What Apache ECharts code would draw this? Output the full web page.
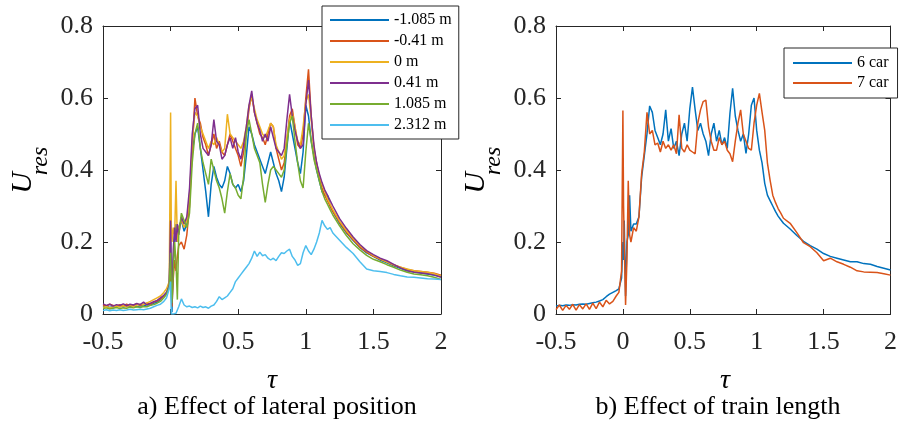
<!DOCTYPE html>
<html><head><meta charset="utf-8">
<script src="https://cdn.jsdelivr.net/npm/echarts@6/dist/echarts.min.js"></script>
<style>html,body{margin:0;padding:0;background:#fff;}#c{width:900px;height:423px;}</style>
</head><body><div id="c"></div>
<script>
// shared tau sample positions
const tau = [-0.5,-0.475,-0.45,-0.425,-0.4,-0.375,-0.35,-0.325,-0.3,-0.275,-0.25,-0.225,-0.2,-0.175,-0.15,-0.125,-0.1,
-0.075,-0.05,-0.03,-0.02,-0.01,0,0.005,0.01,0.02,0.03,0.04,0.05,0.06,0.08,
0.1,0.12,0.14,0.16,0.18,0.2,0.22,0.24,0.26,0.28,0.3,0.32,0.34,0.36,0.38,0.4,0.42,0.44,0.46,0.48,0.5,0.52,0.54,0.56,0.58,0.6,0.62,0.64,0.66,0.68,0.7,0.72,0.74,0.76,0.78,0.8,0.82,0.84,0.86,0.88,0.9,0.92,0.94,0.96,0.98,1,1.02,1.04,1.06,1.08,1.1,1.12,1.14,1.16,1.18,1.2,
1.25,1.3,1.35,1.4,1.45,1.5,1.55,1.6,1.65,1.7,1.75,1.8,1.85,1.9,1.95,2];

const xTicks = [-0.5, 0, 0.5, 1, 1.5, 2];
const yTicks = [0, 0.2, 0.4, 0.6, 0.8];

// a) lateral position
const namesA = ['-1.085 m','-0.41 m','0 m','0.41 m','1.085 m','2.312 m'];
const uNeg1085 = [0.02,0.022,0.018,0.021,0.02,0.023,0.019,0.022,0.021,0.024,0.02,0.023,0.022,0.026,0.024,0.03,0.033,
0.04,0.05,0.06,0.07,0.09,0.2,0.1,0.005,0.15,0.22,0.25,0.2,0.24,0.26,
0.23,0.25,0.33,0.45,0.5,0.52,0.46,0.4,0.34,0.27,0.36,0.41,0.38,0.36,0.35,0.37,0.41,0.39,0.36,0.35,0.36,0.34,0.37,0.44,0.52,0.5,0.47,0.45,0.43,0.41,0.39,0.42,0.45,0.42,0.39,0.37,0.34,0.38,0.46,0.54,0.5,0.46,0.42,0.39,0.45,0.58,0.55,0.48,0.44,0.4,0.37,0.34,0.33,0.33,0.3,0.285,
0.252,0.226,0.205,0.185,0.17,0.16,0.15,0.142,0.134,0.127,0.12,0.117,0.114,0.111,0.108,0.104];
const uNeg041 = [0.025,0.022,0.027,0.024,0.021,0.026,0.023,0.027,0.022,0.025,0.028,0.024,0.027,0.03,0.027,0.033,0.036,
0.042,0.05,0.058,0.065,0.08,0.12,0.05,0.02,0.1,0.15,0.12,0.16,0.19,0.2,
0.18,0.22,0.3,0.46,0.6,0.55,0.53,0.49,0.47,0.44,0.47,0.5,0.46,0.48,0.45,0.44,0.47,0.5,0.48,0.46,0.44,0.41,0.45,0.5,0.57,0.61,0.56,0.53,0.5,0.49,0.47,0.5,0.53,0.52,0.46,0.43,0.4,0.42,0.48,0.55,0.57,0.52,0.47,0.46,0.5,0.6,0.68,0.55,0.46,0.42,0.38,0.35,0.33,0.315,0.3,0.285,
0.255,0.228,0.206,0.186,0.172,0.16,0.152,0.145,0.136,0.13,0.124,0.12,0.118,0.116,0.113,0.108];
const uZero = [0.018,0.021,0.017,0.02,0.022,0.019,0.023,0.02,0.024,0.021,0.025,0.027,0.026,0.031,0.035,0.04,0.045,
0.05,0.06,0.07,0.08,0.09,0.56,0.25,0.2,0.24,0.22,0.37,0.2,0.24,0.26,
0.24,0.26,0.32,0.48,0.56,0.55,0.52,0.5,0.48,0.46,0.48,0.47,0.49,0.47,0.45,0.46,0.555,0.5,0.49,0.48,0.47,0.46,0.48,0.52,0.58,0.6,0.57,0.54,0.52,0.5,0.49,0.51,0.53,0.52,0.47,0.45,0.43,0.44,0.49,0.54,0.56,0.52,0.48,0.47,0.52,0.59,0.61,0.54,0.46,0.41,0.385,0.36,0.34,0.32,0.305,0.29,
0.258,0.232,0.21,0.19,0.175,0.162,0.153,0.144,0.137,0.13,0.125,0.12,0.118,0.116,0.112,0.106];
const uPos041 = [0.028,0.024,0.027,0.022,0.026,0.024,0.028,0.023,0.027,0.025,0.029,0.026,0.033,0.025,0.03,0.034,0.038,
0.045,0.052,0.06,0.068,0.08,0.26,0.12,0.03,0.18,0.24,0.2,0.25,0.22,0.27,
0.25,0.27,0.35,0.5,0.57,0.58,0.5,0.46,0.45,0.44,0.47,0.54,0.48,0.47,0.43,0.44,0.47,0.49,0.46,0.49,0.45,0.43,0.47,0.52,0.58,0.62,0.56,0.53,0.51,0.48,0.5,0.48,0.52,0.49,0.46,0.45,0.44,0.46,0.54,0.61,0.55,0.51,0.48,0.46,0.47,0.58,0.65,0.55,0.47,0.42,0.39,0.365,0.345,0.33,0.315,0.3,
0.265,0.238,0.214,0.193,0.176,0.165,0.155,0.148,0.138,0.128,0.12,0.116,0.114,0.112,0.108,0.102];
const uPos1085 = [0.015,0.017,0.014,0.016,0.018,0.015,0.017,0.016,0.019,0.017,0.02,0.018,0.021,0.02,0.024,0.026,0.03,
0.035,0.045,0.055,0.06,0.075,0.17,0.08,0.03,0.12,0.2,0.14,0.04,0.22,0.28,
0.26,0.24,0.28,0.42,0.5,0.53,0.46,0.42,0.39,0.36,0.43,0.4,0.37,0.35,0.32,0.28,0.34,0.39,0.36,0.35,0.33,0.32,0.38,0.5,0.54,0.5,0.46,0.44,0.42,0.36,0.31,0.36,0.4,0.41,0.4,0.39,0.38,0.4,0.47,0.53,0.55,0.48,0.42,0.37,0.35,0.45,0.53,0.48,0.43,0.4,0.37,0.34,0.32,0.305,0.29,0.275,
0.245,0.218,0.195,0.178,0.163,0.152,0.145,0.137,0.13,0.122,0.116,0.111,0.109,0.106,0.102,0.096];
const uPos2312 = [0.01,0.012,0.009,0.011,0.01,0.012,0.01,0.011,0.013,0.011,0.012,0.013,0.012,0.014,0.016,0.02,0.024,
0.027,0.035,0.045,0.05,0.07,0.09,0.0,0.0,0.0,0.0,0.002,0.0,0.02,0.042,
0.025,0.02,0.022,0.018,0.02,0.017,0.022,0.018,0.02,0.016,0.022,0.025,0.035,0.048,0.04,0.045,0.05,0.06,0.07,0.09,0.1,0.11,0.12,0.13,0.14,0.155,0.175,0.16,0.172,0.162,0.165,0.155,0.15,0.155,0.148,0.16,0.17,0.168,0.175,0.18,0.16,0.15,0.135,0.14,0.17,0.19,0.175,0.165,0.18,0.2,0.225,0.26,0.245,0.235,0.24,0.225,
0.205,0.185,0.168,0.145,0.125,0.12,0.118,0.115,0.11,0.106,0.103,0.102,0.1,0.098,0.097,0.096];

// b) train length
const namesB = ['6 car','7 car'];
const u6car = [0.022,0.024,0.023,0.025,0.024,0.026,0.025,0.027,0.028,0.027,0.029,0.031,0.033,0.036,0.04,0.048,0.055,
0.06,0.065,0.07,0.075,0.1,0.2,0.15,0.26,0.05,0.2,0.22,0.33,0.23,0.25,
0.25,0.27,0.38,0.44,0.5,0.578,0.56,0.51,0.49,0.47,0.5,0.567,0.48,0.515,0.46,0.48,0.44,0.5,0.53,0.48,0.57,0.63,0.567,0.51,0.53,0.5,0.48,0.44,0.5,0.53,0.48,0.51,0.47,0.49,0.46,0.557,0.627,0.55,0.51,0.48,0.5,0.446,0.5,0.58,0.6,0.51,0.455,0.42,0.363,0.33,0.315,0.3,0.285,0.272,0.262,0.252,
0.236,0.218,0.202,0.19,0.18,0.168,0.16,0.155,0.15,0.145,0.145,0.14,0.138,0.132,0.127,0.122];
const u7car = [0.012,0.025,0.01,0.024,0.013,0.027,0.011,0.026,0.014,0.028,0.013,0.03,0.015,0.033,0.02,0.038,0.028,
0.035,0.05,0.06,0.09,0.12,0.565,0.3,0.2,0.025,0.15,0.37,0.22,0.2,0.24,
0.23,0.27,0.39,0.45,0.56,0.5,0.51,0.47,0.475,0.45,0.48,0.46,0.47,0.455,0.47,0.445,0.553,0.46,0.45,0.47,0.455,0.45,0.445,0.53,0.567,0.59,0.594,0.52,0.48,0.455,0.455,0.49,0.47,0.48,0.455,0.445,0.423,0.48,0.53,0.567,0.5,0.48,0.46,0.455,0.53,0.58,0.613,0.56,0.51,0.42,0.372,0.33,0.31,0.293,0.28,0.266,
0.252,0.226,0.198,0.187,0.17,0.148,0.155,0.145,0.138,0.13,0.12,0.117,0.116,0.115,0.112,0.108];

const colorsA = ['#0072BD','#D95319','#EDB120','#7E2F8E','#77AC30','#4DBEEE'];
const colorsB = ['#0072BD','#D95319'];

const FONT = '"Liberation Serif", "Times New Roman", serif';
const AX = '#262626';
const zip = (xs, ys) => xs.map((x, i) => [x, ys[i]]);

function xAx(grid, pos, labels) {
  return {type:'value', gridIndex:grid, position:pos, min:xTicks[0], max:xTicks[xTicks.length-1], interval:0.5,
    axisLine:{show:true, onZero:false, lineStyle:{color:AX, width:1}},
    axisTick:{show:true, inside:true, length:5, lineStyle:{color:AX, width:1}},
    axisLabel:{show:labels, margin:15, fontFamily:FONT, fontSize:26, color:AX},
    splitLine:{show:false}};
}
function yAx(grid, pos, labels) {
  return {type:'value', gridIndex:grid, position:pos, min:yTicks[0], max:yTicks[yTicks.length-1], interval:0.2,
    axisLine:{show:true, onZero:false, lineStyle:{color:AX, width:1}},
    axisTick:{show:true, inside:true, length:5, lineStyle:{color:AX, width:1}},
    axisLabel:{show:labels, margin:10, fontFamily:FONT, fontSize:26, color:AX},
    splitLine:{show:false}};
}
function line(name, data, color, xi, yi) {
  return {type:'line', name:name, xAxisIndex:xi, yAxisIndex:yi, data:zip(tau, data),
    symbol:'none', showSymbol:false, lineStyle:{width:1.5, color:color}, itemStyle:{color:color},
    animation:false, silent:true, z:2};
}
const seriesA = [uNeg1085, uNeg041, uZero, uPos041, uPos1085, uPos2312];
const seriesB = [u6car, u7car];

const legendCommon = {orient:'vertical', icon:'rect', itemWidth:59, itemHeight:2, borderColor:AX, borderWidth:1,
  backgroundColor:'#fff', textStyle:{fontFamily:FONT, fontSize:16, color:'#000'}, selectedMode:false, z:10};

const chart = echarts.init(document.getElementById('c'), null, {renderer:'canvas'});
chart.setOption({
  animation:false,
  backgroundColor:'#fff',
  grid:[{left:103, top:26, width:338, height:288}, {left:556, top:26, width:337, height:288}],
  xAxis:[xAx(0,'bottom',true), xAx(0,'top',false), xAx(1,'bottom',true), xAx(1,'top',false)],
  yAxis:[yAx(0,'left',true), yAx(0,'right',false), yAx(1,'left',true), yAx(1,'right',false)],
  legend:[
    Object.assign({}, legendCommon, {data:namesA, left:322, top:6, itemGap:5, padding:[6,7,6,8]}),
    Object.assign({}, legendCommon, {data:namesB, left:784, top:48, itemGap:4, padding:[7,9,7,9]})
  ],
  series: seriesA.map((d,i)=>line(namesA[i], d, colorsA[i], 0, 0))
    .concat(seriesB.map((d,i)=>line(namesB[i], d, colorsB[i], 2, 2))),
  graphic:[
    {type:'text', x:272, y:381, style:{text:'τ', font:'italic 28px '+FONT, fill:'#000', textAlign:'center', textVerticalAlign:'middle'}},
    {type:'text', x:725, y:381, style:{text:'τ', font:'italic 28px '+FONT, fill:'#000', textAlign:'center', textVerticalAlign:'middle'}},
    {type:'text', x:277, y:407, style:{text:'a) Effect of lateral position', font:'26px '+FONT, fill:'#000', textAlign:'center', textVerticalAlign:'middle'}},
    {type:'text', x:718, y:407, style:{text:'b) Effect of train length', font:'26px '+FONT, fill:'#000', textAlign:'center', textVerticalAlign:'middle'}},
    {type:'text', x:23, y:183, rotation:Math.PI/2, style:{text:'U', font:'italic 30px '+FONT, fill:'#000', textAlign:'center', textVerticalAlign:'middle'}},
    {type:'text', x:41, y:161, rotation:Math.PI/2, style:{text:'res', font:'italic 24px '+FONT, fill:'#000', textAlign:'center', textVerticalAlign:'middle'}},
    {type:'text', x:476, y:183, rotation:Math.PI/2, style:{text:'U', font:'italic 30px '+FONT, fill:'#000', textAlign:'center', textVerticalAlign:'middle'}},
    {type:'text', x:494, y:161, rotation:Math.PI/2, style:{text:'res', font:'italic 24px '+FONT, fill:'#000', textAlign:'center', textVerticalAlign:'middle'}}
  ]
});
</script>
</body></html>
